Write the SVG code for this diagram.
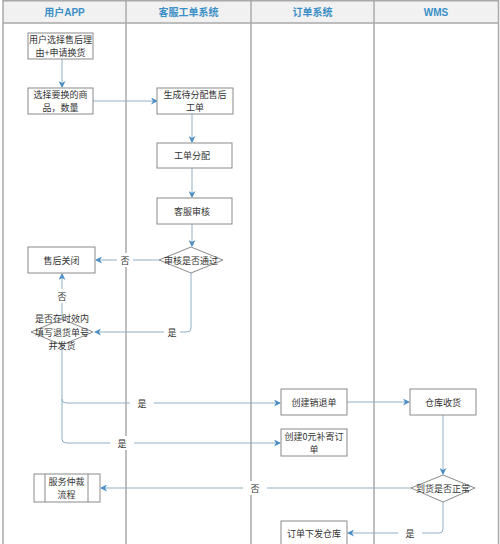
<svg xmlns="http://www.w3.org/2000/svg" width="500" height="544" viewBox="0 0 500 544">
<defs>
<style>
.lane{stroke:#a9a9a9;stroke-width:1.5;fill:none}
.hdr{font-family:"Liberation Sans","Noto Sans CJK SC",sans-serif;font-size:10px;font-weight:bold;fill:#3b8fc6;text-anchor:middle}
.box{fill:#fff;stroke:#8a8a8a;stroke-width:1}
.t{font-family:"Noto Sans CJK SC",sans-serif;font-size:9px;fill:#333;text-anchor:middle;dominant-baseline:central}
.c{fill:none;stroke:#8fb1c7;stroke-width:1}
.a{marker-end:url(#arr)}
.lb{fill:#fff}
</style>
<marker id="arr" viewBox="0 0 7 7" refX="6" refY="3.5" markerWidth="7" markerHeight="7" orient="auto" markerUnits="userSpaceOnUse">
<path d="M0,0 L7,3.5 L0,7 L2,3.5 Z" fill="#4d8fc4"/>
</marker>
</defs>
<rect x="0" y="0" width="500" height="544" fill="#fff"/>
<g id="lanes">
<rect x="3" y="0.75" width="495" height="22.5" fill="#f1f1f1"/>
<line class="lane" x1="3" y1="0.75" x2="498" y2="0.75"/>
<line class="lane" x1="3" y1="23" x2="498" y2="23"/>
<line class="lane" x1="3" y1="0" x2="3" y2="544"/>
<line class="lane" x1="126" y1="0" x2="126" y2="544"/>
<line class="lane" x1="251" y1="0" x2="251" y2="544"/>
<line class="lane" x1="374" y1="0" x2="374" y2="544"/>
<line class="lane" x1="498.5" y1="0" x2="498.5" y2="544"/>
<text class="hdr" x="64.5" y="16">用户APP</text>
<text class="hdr" x="188.5" y="16">客服工单系统</text>
<text class="hdr" x="312.5" y="16">订单系统</text>
<text class="hdr" x="436" y="16">WMS</text>
</g>
<g id="connectors">
<path class="c a" d="M62,59 V87"/>
<path class="c a" d="M93,101 H157"/>
<path class="c a" d="M192,114 V142"/>
<path class="c a" d="M192,168 V197"/>
<path class="c a" d="M192,224 V246"/>
<path class="c a" d="M159,260 H96"/>
<path class="c a" d="M191,273 V328 Q191,332 187,332 H95"/>
<path class="c a" d="M62,319 V274"/>
<path class="c a" d="M62,345 V399 Q62,403 66,403 H280"/>
<path class="c a" d="M62,399 V439 Q62,443 66,443 H280"/>
<path class="c a" d="M347,402 H409"/>
<path class="c a" d="M443,415 V474"/>
<path class="c a" d="M411,488 H101"/>
<path class="c a" d="M443,502 V529 Q443,533 439,533 H348"/>
<rect class="lb" x="117" y="253" width="16" height="14"/>
<text class="t" x="125" y="260">否</text>
<rect class="lb" x="164" y="325" width="16" height="14"/>
<text class="t" x="172" y="332">是</text>
<rect class="lb" x="55" y="289" width="14" height="14"/>
<text class="t" x="62" y="296">否</text>
<rect class="lb" x="130" y="396" width="24" height="14"/>
<text class="t" x="142" y="403">是</text>
<rect class="lb" x="110" y="436" width="24" height="14"/>
<text class="t" x="122" y="443">是</text>
<rect class="lb" x="243" y="481" width="24" height="14"/>
<text class="t" x="255" y="488">否</text>
<rect class="lb" x="398" y="526" width="24" height="14"/>
<text class="t" x="410" y="533">是</text>
</g>
<g id="n1"><rect class="box" x="28" y="33" width="65" height="26"/><text class="t" x="60.5" y="39.5">用户选择售后理</text><text class="t" x="60.5" y="52.5">由+申请换货</text></g>
<g id="n2"><rect class="box" x="28" y="88" width="65" height="26"/><text class="t" x="60.5" y="94.5">选择要换的商</text><text class="t" x="60.5" y="107.5">品，数量</text></g>
<g id="n3"><rect class="box" x="157" y="88" width="76" height="26"/><text class="t" x="195" y="94.5">生成待分配售后</text><text class="t" x="195" y="107.5">工单</text></g>
<g id="n4"><rect class="box" x="157" y="143" width="75" height="25"/><text class="t" x="192" y="155.5">工单分配</text></g>
<g id="n5"><rect class="box" x="157" y="198" width="75" height="26"/><text class="t" x="192" y="211">客服审核</text></g>
<g id="d1"><polygon class="box" points="159,260 191,247 223,260 191,273"/><text class="t" x="191" y="260">审核是否通过</text></g>
<g id="n6"><rect class="box" x="28" y="247" width="67" height="26"/><text class="t" x="61.5" y="260">售后关闭</text></g>
<g id="d2"><polygon class="box" points="31,332 62,319 93,332 62,345"/><text class="t" x="62" y="318.5">是否在时效内</text><text class="t" x="62" y="332">填写退货单号</text><text class="t" x="62" y="345.5">并发货</text></g>
<g id="n7"><rect class="box" x="281" y="389" width="66" height="26"/><text class="t" x="314" y="402">创建销退单</text></g>
<g id="n8"><rect class="box" x="281" y="429" width="66" height="27"/><text class="t" x="314" y="436">创建0元补寄订</text><text class="t" x="314" y="449.5">单</text></g>
<g id="n9"><rect class="box" x="410" y="389" width="66" height="26"/><text class="t" x="443" y="402">仓库收货</text></g>
<g id="d3"><polygon class="box" points="411,488 443,475 475,488 443,502"/><text class="t" x="443" y="488">到货是否正常</text></g>
<g id="n10"><rect class="box" x="34" y="474" width="66" height="28"/><line class="box" x1="45" y1="474" x2="45" y2="502"/><line class="box" x1="88" y1="474" x2="88" y2="502"/><text class="t" x="66.5" y="481.5">服务仲裁</text><text class="t" x="66.5" y="494.5">流程</text></g>
<g id="n11"><rect class="box" x="281" y="521" width="66" height="28"/><text class="t" x="314" y="533">订单下发仓库</text></g>
</svg>
